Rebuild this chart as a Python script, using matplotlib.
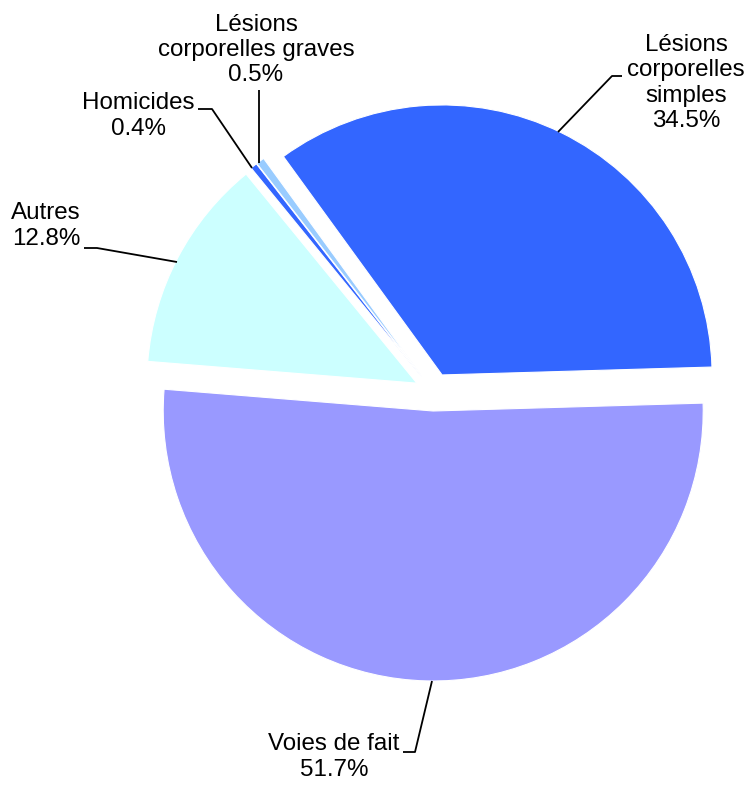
import matplotlib
matplotlib.use("Agg")
import matplotlib.pyplot as plt

categories = ["Lésions\ncorporelles\nsimples", "Voies de fait", "Autres", "Homicides",
              "Lésions\ncorporelles graves"]
values = [34.5, 51.7, 12.8, 0.4, 0.5]
colors = ["#3366FF", "#9999FF", "#CCFFFF", "#3366FF", "#99CCFF"]

W, H = 746, 785
fig = plt.figure(figsize=(W / 100, H / 100), dpi=100)
ax = fig.add_axes([0, 0, 1, 1])

cx, cy, R = 433.7, H - 392, 270
ax.pie(values, colors=colors, startangle=126, counterclock=False,
       explode=[19] * len(values), radius=R, center=(cx, cy),
       wedgeprops=dict(edgecolor="white", linewidth=0.8))
ax.set_xlim(0, W)
ax.set_ylim(0, H)
ax.set_aspect("equal")
ax.axis("off")

plt.rcParams["font.family"] = ["Liberation Sans", "DejaVu Sans"]
fs = 17.4

def label(text, pct, x, y, line):
    ax.text(x, H - y, f"{text}\n{pct}%", ha="center", va="center", fontsize=fs,
            linespacing=1.2, family=["Liberation Sans", "DejaVu Sans"])
    xs = [p[0] for p in line]
    ys = [H - p[1] for p in line]
    ax.plot(xs, ys, color="black", lw=1.3, solid_capstyle="butt")

label(categories[0], values[0], 686, 83, [(622, 76), (612, 76), (558, 132)])
label(categories[1], values[1], 334, 757, [(403, 752), (415, 752), (432, 681)])
label(categories[2], values[2], 46, 226, [(84, 248), (97, 248), (177, 262)])
label(categories[3], values[3], 138, 116, [(198, 109), (212, 109), (252, 168)])
label(categories[4], values[4], 256, 50, [(259, 90), (259, 163)])

fig.savefig("out.png", dpi=100)
